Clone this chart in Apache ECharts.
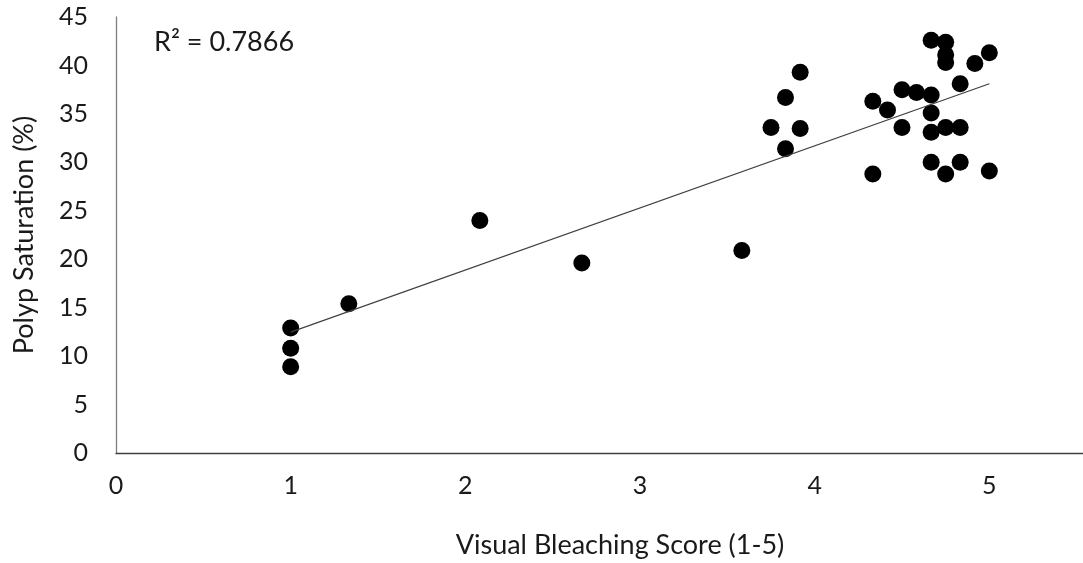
<!DOCTYPE html>
<html>
<head>
<meta charset="utf-8">
<script src="https://cdn.jsdelivr.net/npm/echarts@6/dist/echarts.min.js"></script>
<style>
  html, body { margin: 0; padding: 0; background: #fff; }
  #chart { width: 1083px; height: 563px; }
</style>
</head>
<body>
<div id="chart"></div>
<script>
// Visual bleaching score of each colony (x) and its polyp saturation (y, %)
const bleachingScore = [
  1, 1, 1, 1.333, 2.083, 2.667, 3.583, 3.75, 3.833, 3.833,
  3.917, 3.917, 4.333, 4.333, 4.417, 4.5, 4.5, 4.583,
  4.667, 4.667, 4.667, 4.667, 4.667,
  4.75, 4.75, 4.75, 4.75, 4.75,
  4.833, 4.833, 4.833, 4.917, 5, 5
];
const polypSaturation = [
  12.9, 10.8, 8.9, 15.4, 24.0, 19.6, 20.9, 33.6, 36.7, 31.4,
  39.3, 33.5, 36.3, 28.8, 35.4, 37.5, 33.6, 37.2,
  42.6, 36.95, 35.1, 33.1, 30.0,
  42.4, 41.1, 40.3, 33.6, 28.8,
  38.1, 33.6, 30.0, 40.2, 41.3, 29.1
];
const xTicks = [0, 1, 2, 3, 4, 5];
const yTicks = [0, 5, 10, 15, 20, 25, 30, 35, 40, 45];
const rSquaredText = 'R² = 0.7866';
const xTitle = 'Visual Bleaching Score (1-5)';
const yTitle = 'Polyp Saturation (%)';

// Least-squares linear trendline, drawn across the observed score range
const n = bleachingScore.length;
const mx = bleachingScore.reduce((a, b) => a + b, 0) / n;
const my = polypSaturation.reduce((a, b) => a + b, 0) / n;
let sxy = 0, sxx = 0;
for (let i = 0; i < n; i++) {
  sxy += (bleachingScore[i] - mx) * (polypSaturation[i] - my);
  sxx += (bleachingScore[i] - mx) ** 2;
}
const slope = sxy / sxx;
const intercept = my - slope * mx;
const xMin = Math.min(...bleachingScore);
const xMax = Math.max(...bleachingScore);
const trend = [[xMin, intercept + slope * xMin], [xMax, intercept + slope * xMax]];

const points = bleachingScore.map((x, i) => [x, polypSaturation[i]]);
const FONT = 'Lato';
const TEXT = '#1a1a1a';

const chart = echarts.init(document.getElementById('chart'), null, { renderer: 'canvas' });
chart.setOption({
  animation: false,
  backgroundColor: '#ffffff',
  textStyle: { fontFamily: FONT },
  // the value axis runs on to 6, past the right edge of the canvas
  grid: { left: 116, top: 17, bottom: 110, right: -81, containLabel: false, outerBoundsMode: 'none' },
  xAxis: {
    type: 'value',
    min: xTicks[0],
    max: 6,
    interval: xTicks[1] - xTicks[0],
    splitLine: { show: false },
    axisTick: { show: false },
    axisLine: { lineStyle: { color: '#404040', width: 1.3 } },
    axisLabel: {
      color: TEXT, fontFamily: FONT, fontSize: 25, margin: 20,
      formatter: v => (xTicks.includes(v) ? String(v) : '')
    }
  },
  yAxis: {
    type: 'value',
    min: yTicks[0],
    max: yTicks[yTicks.length - 1],
    interval: yTicks[1] - yTicks[0],
    splitLine: { show: false },
    axisTick: { show: false },
    axisLine: { show: true, lineStyle: { color: '#7f7f7f', width: 1.3 } },
    axisLabel: { color: TEXT, fontFamily: FONT, fontSize: 25, margin: 28 },
    name: yTitle,
    nameLocation: 'middle',
    nameGap: 78,
    nameTextStyle: { color: TEXT, fontFamily: FONT, fontSize: 27 }
  },
  graphic: [
    {
      type: 'text',
      left: 154,
      top: 29,
      style: { text: rSquaredText, fill: TEXT, font: '27px ' + FONT }
    },
    {
      // x-axis title, centred under the visible part of the plot
      type: 'text',
      x: 620,
      y: 545,
      style: {
        text: xTitle, fill: TEXT, font: '27px ' + FONT,
        align: 'center', verticalAlign: 'middle'
      }
    }
  ],
  series: [
    {
      name: 'Colonies',
      type: 'scatter',
      data: points,
      symbol: 'circle',
      symbolSize: 17,
      itemStyle: { color: '#000000', opacity: 1 },
      z: 3
    },
    {
      name: 'Linear trend',
      type: 'line',
      data: trend,
      symbol: 'none',
      lineStyle: { color: '#404040', width: 1.2 },
      z: 4
    }
  ]
});
</script>
</body>
</html>
